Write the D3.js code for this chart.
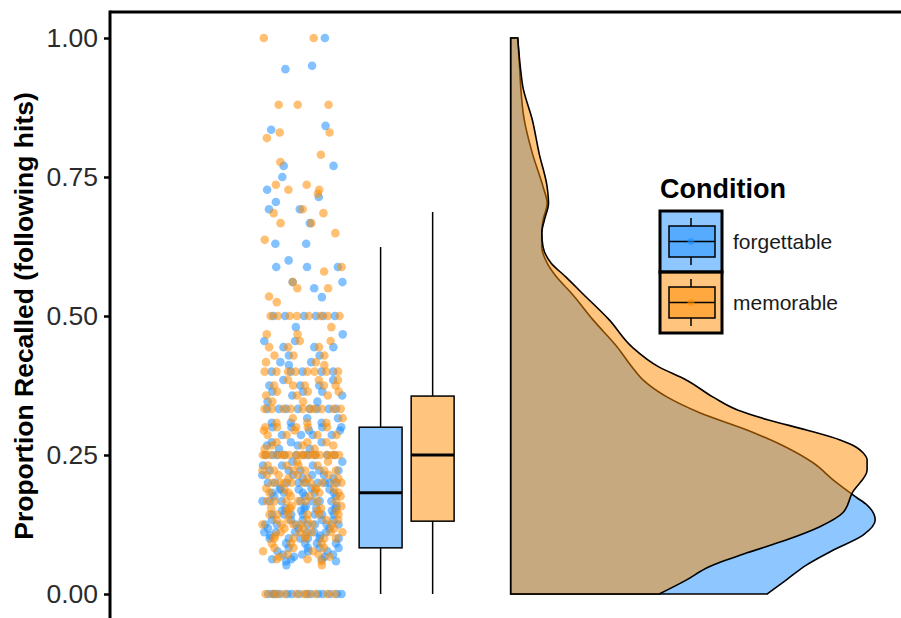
<!DOCTYPE html>
<html>
<head>
<meta charset="utf-8">
<script src="https://cdn.jsdelivr.net/npm/d3@7"></script>
<style>
  body { margin: 0; background: #fff; }
  svg { display: block; font-family: "Liberation Sans", Arial, sans-serif; }
</style>
</head>
<body>
<div class="rainCloud"></div>
<script>
var w = 901;
var h = 618;
var margin = {top: 12, left: 110};

var conditions = ["forgettable", "memorable"];
var colors = ["#1E90FF", "#FF8C00"];
var yTicks = [0, 0.25, 0.5, 0.75, 1];

// recalled proportions and how many subjects had each one
var forgettableValues = [0, 0.052, 0.059, 0.0625, 0.067, 0.071, 0.077, 0.083, 0.091,
  0.1, 0.105, 0.111, 0.118, 0.125, 0.133, 0.143, 0.15, 0.154, 0.158,
  0.167, 0.176, 0.182, 0.188, 0.19, 0.2, 0.208, 0.214, 0.222, 0.231,
  0.238, 0.25, 0.261, 0.267, 0.273, 0.286, 0.294, 0.3, 0.308, 0.316,
  0.333, 0.346, 0.357, 0.364, 0.375, 0.385, 0.4, 0.412, 0.417, 0.429,
  0.444, 0.455, 0.467, 0.48, 0.5, 0.534, 0.55, 0.561, 0.588, 0.6,
  0.63, 0.667, 0.692, 0.705, 0.714, 0.727, 0.75, 0.77, 0.835, 0.842,
  0.944, 0.95, 1];
var forgettableCounts = [14, 1, 2, 3, 2, 3, 3, 4, 4,
  6, 2, 6, 3, 7, 5, 7, 3, 4, 2,
  7, 3, 5, 3, 2, 9, 2, 4, 5, 3,
  2, 10, 2, 2, 3, 4, 2, 4, 3, 2,
  8, 2, 2, 3, 3, 2, 5, 1, 2, 2,
  3, 2, 1, 1, 6, 1, 1, 2, 3, 1,
  2, 1, 2, 1, 1, 1, 1, 2, 1, 1,
  1, 1, 1];

var memorableValues = [0, 0.052, 0.059, 0.0625, 0.067, 0.071, 0.077, 0.083, 0.091, 0.1,
  0.105, 0.111, 0.118, 0.125, 0.133, 0.143, 0.15, 0.154, 0.158,
  0.167, 0.176, 0.182, 0.188, 0.19, 0.2, 0.208, 0.214, 0.222, 0.231,
  0.238, 0.25, 0.261, 0.267, 0.273, 0.286, 0.294, 0.3, 0.308, 0.316,
  0.333, 0.346, 0.357, 0.364, 0.375, 0.385, 0.4, 0.412, 0.417, 0.429,
  0.444, 0.455, 0.467, 0.48, 0.5,
  0.525, 0.535, 0.55, 0.561, 0.58, 0.588, 0.637, 0.649, 0.667, 0.685,
  0.692, 0.72, 0.727, 0.736, 0.777, 0.79, 0.82, 0.83, 0.88, 1];
var memorableCounts = [10, 1, 1, 2, 2, 2, 2, 3, 3, 5,
  2, 5, 3, 6, 5, 6, 3, 3, 2,
  7, 3, 4, 3, 2, 9, 3, 4, 6, 4,
  2, 18, 2, 3, 3, 4, 2, 5, 3, 2,
  10, 2, 3, 3, 5, 3, 8, 1, 2, 3,
  3, 2, 2, 1, 8,
  1, 1, 2, 1, 1, 1, 1, 1, 2, 2,
  1, 1, 2, 2, 1, 1, 1, 2, 3, 2];

// boxplot stats: lower whisker, q1, median, q3, upper whisker
var forgettableBox = [0, 0.083, 0.182, 0.300, 0.624];
var memorableBox = [0, 0.131, 0.25, 0.356, 0.687];

// density estimates (proportion -> density)
var forgettableDensAt = [0, 0.025, 0.052, 0.079, 0.106, 0.133, 0.16, 0.174, 0.205, 0.236,
  0.264, 0.295, 0.326, 0.354, 0.385, 0.408, 0.444, 0.493, 0.541, 0.57,
  0.595, 0.624, 0.649, 0.673, 0.703, 0.732, 0.793, 0.853, 0.912, 0.942, 1];
var forgettableDens = [1.90, 2.04, 2.19, 2.39, 2.61, 2.70, 2.64, 2.56, 2.39, 2.24,
  2.04, 1.75, 1.40, 1.16, 0.98, 0.90, 0.79, 0.61, 0.45, 0.34,
  0.27, 0.23, 0.23, 0.24, 0.27, 0.24, 0.16, 0.10, 0.074, 0.067, 0.052];

var memorableDensAt = [0, 0.025, 0.049, 0.074, 0.097, 0.121, 0.146, 0.182, 0.223, 0.241,
  0.254, 0.264, 0.277, 0.295, 0.313, 0.331, 0.354, 0.385, 0.408, 0.444,
  0.493, 0.541, 0.57, 0.595, 0.624, 0.649, 0.673, 0.703, 0.732, 0.793,
  0.853, 0.912, 0.942, 1];
var memorableDens = [1.10, 1.30, 1.47, 1.75, 2.04, 2.29, 2.46, 2.53, 2.64, 2.64,
  2.61, 2.56, 2.44, 2.19, 1.91, 1.68, 1.50, 1.30, 1.10, 0.90,
  0.73, 0.53, 0.41, 0.30, 0.24, 0.23, 0.25, 0.28, 0.27, 0.21,
  0.16, 0.09, 0.074, 0.052];

//Create SVG element
var svg = d3.select(".rainCloud")
            .append("svg")
            .attr("width", w)
            .attr("height", h);

// scales
var xScale = d3.scaleLinear()
    .domain([-0.54, 2.5])
    .range([margin.left, w]);

var yScale = d3.scaleLinear()
    .domain([0, 1])
    .range([594, 38]);

var densScale = d3.scaleLinear()
    .domain([0, 2.7])
    .range([0, 364.5]);

var groups = [
  {name: conditions[0], color: colors[0], values: forgettableValues, counts: forgettableCounts,
   box: forgettableBox, densAt: forgettableDensAt, dens: forgettableDens, boxX: 0.5, seed: 0.13},
  {name: conditions[1], color: colors[1], values: memorableValues, counts: memorableCounts,
   box: memorableBox, densAt: memorableDensAt, dens: memorableDens, boxX: 0.7, seed: 0.57}
];

// half violins (density)
var base = xScale(1);
groups.forEach(function(g) {
  var pts = g.densAt.map(function(v, i) { return {v: v, d: g.dens[i]}; });
  var area = d3.area()
      .curve(d3.curveMonotoneY)
      .y(function(d) { return yScale(d.v); })
      .x0(base)
      .x1(function(d) { return base + densScale(d.d); });
  svg.append("path")
     .datum(pts)
     .attr("d", area)
     .attr("fill", g.color)
     .attr("fill-opacity", 0.5)
     .attr("stroke", "black")
     .attr("stroke-width", 1.6);
});

// jittered points: golden-ratio spacing inside a row, scrambled phase per row (deterministic)
var jitterW = 0.155;
var phi = 0.6180339887;
groups.forEach(function(g) {
  var pts = [];
  g.values.forEach(function(v, i) {
    var phase = (g.seed + i * 0.7548776662 + i * i * 0.41421356) % 1;
    for (var k = 0; k < g.counts[i]; k++) {
      var u = (phase + k * phi) % 1;
      pts.push({v: v, t: u * 2 - 1});
    }
  });
  svg.append("g")
     .selectAll("circle")
     .data(pts)
     .enter()
     .append("circle")
     .attr("cx", function(d) { return xScale(0.2 + d.t * jitterW); })
     .attr("cy", function(d) { return yScale(d.v); })
     .attr("r", 4.3)
     .attr("fill", g.color)
     .attr("fill-opacity", 0.55);
});

// boxplots
var boxHalf = 0.0825;
groups.forEach(function(g) {
  var b = g.box, cx = xScale(g.boxX);
  var bg = svg.append("g");
  bg.append("line")
    .attr("x1", cx).attr("x2", cx)
    .attr("y1", yScale(b[3])).attr("y2", yScale(b[4]))
    .attr("stroke", "black").attr("stroke-width", 1.5);
  bg.append("line")
    .attr("x1", cx).attr("x2", cx)
    .attr("y1", yScale(b[1])).attr("y2", yScale(b[0]))
    .attr("stroke", "black").attr("stroke-width", 1.5);
  bg.append("rect")
    .attr("x", xScale(g.boxX - boxHalf))
    .attr("width", xScale(g.boxX + boxHalf) - xScale(g.boxX - boxHalf))
    .attr("y", yScale(b[3]))
    .attr("height", yScale(b[1]) - yScale(b[3]))
    .attr("fill", g.color).attr("fill-opacity", 0.5)
    .attr("stroke", "black").attr("stroke-width", 1.5);
  bg.append("line")
    .attr("x1", xScale(g.boxX - boxHalf)).attr("x2", xScale(g.boxX + boxHalf))
    .attr("y1", yScale(b[2])).attr("y2", yScale(b[2]))
    .attr("stroke", "black").attr("stroke-width", 3);
});

// axis
var yAxis = svg.append("g")
   .attr("transform", "translate(" + margin.left + ",0)")
   .call(d3.axisLeft(yScale).tickValues(yTicks).tickFormat(d3.format(".2f")).tickSize(6).tickPadding(6));
yAxis.select(".domain").remove();
yAxis.selectAll(".tick line").attr("stroke", "black").attr("stroke-width", 2.5);
yAxis.selectAll(".tick text")
   .attr("fill", "#2b2b2b")
   .style("font-size", "26.5px");

// panel border (left + top)
svg.append("line")
   .attr("x1", margin.left).attr("x2", margin.left)
   .attr("y1", margin.top - 1.5).attr("y2", h)
   .attr("stroke", "black").attr("stroke-width", 3);
svg.append("line")
   .attr("x1", margin.left).attr("x2", w)
   .attr("y1", margin.top).attr("y2", margin.top)
   .attr("stroke", "black").attr("stroke-width", 3);

svg.append("text")
   .attr("transform", "translate(33," + (yScale(0.5)) + ") rotate(-90)")
   .attr("text-anchor", "middle")
   .style("font-size", "26.5px")
   .style("font-weight", "bold")
   .text("Proportion Recalled (following hits)");

// legend
var legend = svg.append("g").attr("transform", "translate(660,0)");
legend.append("text")
   .attr("x", 0).attr("y", 198)
   .style("font-size", "27px")
   .style("font-weight", "bold")
   .text("Condition");

groups.forEach(function(g, i) {
  var top = 211 + i * 61;
  var k = legend.append("g").attr("transform", "translate(0," + top + ")");
  k.append("rect")
   .attr("width", 62).attr("height", 61)
   .attr("fill", g.color).attr("fill-opacity", 0.5)
   .attr("stroke", "black").attr("stroke-width", 3);
  k.append("line")
   .attr("x1", 31).attr("x2", 31).attr("y1", 7).attr("y2", 15)
   .attr("stroke", "black").attr("stroke-width", 1.5);
  k.append("line")
   .attr("x1", 31).attr("x2", 31).attr("y1", 46).attr("y2", 54)
   .attr("stroke", "black").attr("stroke-width", 1.5);
  k.append("rect")
   .attr("x", 9).attr("y", 15).attr("width", 46).attr("height", 31)
   .attr("fill", g.color).attr("fill-opacity", 0.5)
   .attr("stroke", "black").attr("stroke-width", 1.5);
  k.append("line")
   .attr("x1", 9).attr("x2", 55).attr("y1", 30.5).attr("y2", 30.5)
   .attr("stroke", "black").attr("stroke-width", 1.5);
  k.append("circle")
   .attr("cx", 31).attr("cy", 30.5).attr("r", 3.5)
   .attr("fill", g.color).attr("fill-opacity", 0.6);
  k.append("text")
   .attr("x", 73).attr("y", 30.5)
   .attr("dy", "0.35em")
   .style("font-size", "21px")
   .attr("fill", "#1a1a1a")
   .text(g.name);
});
</script>
</body>
</html>
